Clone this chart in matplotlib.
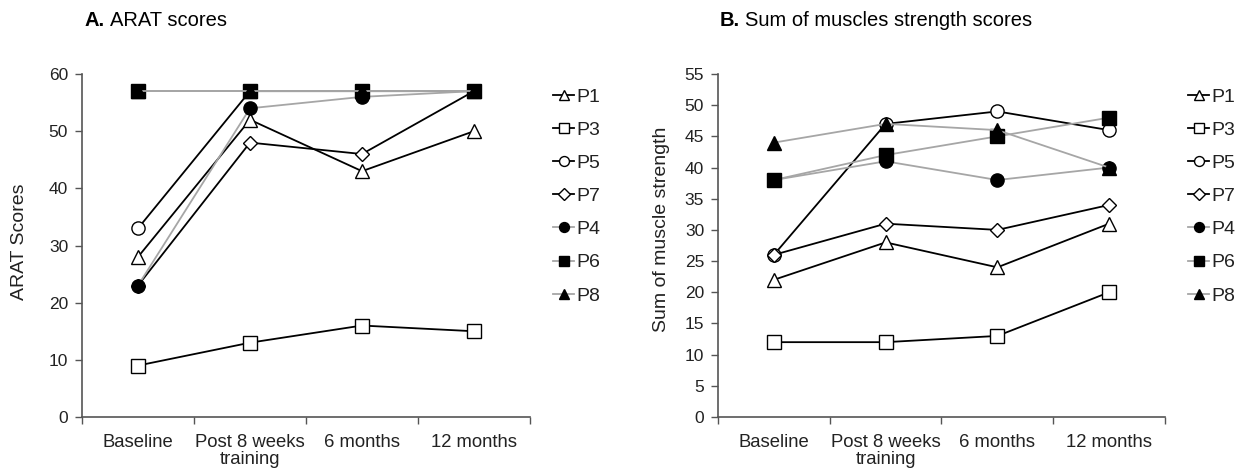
import matplotlib
matplotlib.use("Agg")
import matplotlib.pyplot as plt
import numpy as np

plt.rcParams['font.family'] = ['Liberation Sans', 'DejaVu Sans']

categories = ["Baseline", "Post 8 weeks\ntraining", "6 months", "12 months"]
series_names = ["P1", "P3", "P5", "P7", "P4", "P6", "P8"]

arat_P1 = [28, 52, 43, 50]
arat_P3 = [9, 13, 16, 15]
arat_P5 = [33, 57, 57, 57]
arat_P7 = [23, 48, 46, 57]
arat_P4 = [23, 54, 56, 57]
arat_P6 = [57, 57, 57, 57]
arat_P8 = [57, 57, 57, 57]

msc_P1 = [22, 28, 24, 31]
msc_P3 = [12, 12, 13, 20]
msc_P5 = [26, 47, 49, 46]
msc_P7 = [26, 31, 30, 34]
msc_P4 = [38, 41, 38, 40]
msc_P6 = [38, 42, 45, 48]
msc_P8 = [44, 47, 46, 40]

arat = [arat_P1, arat_P3, arat_P5, arat_P7, arat_P4, arat_P6, arat_P8]
msc = [msc_P1, msc_P3, msc_P5, msc_P7, msc_P4, msc_P6, msc_P8]

BLACK = "#000000"
GRAY = "#a6a6a6"
styles = {
    "P1": dict(marker="^", mfc="white", color=BLACK),
    "P3": dict(marker="s", mfc="white", color=BLACK),
    "P5": dict(marker="o", mfc="white", color=BLACK),
    "P7": dict(marker="D", mfc="white", color=BLACK),
    "P4": dict(marker="o", mfc="black", color=GRAY),
    "P6": dict(marker="s", mfc="black", color=GRAY),
    "P8": dict(marker="^", mfc="black", color=GRAY),
}
msizes = {"^": 10.5, "s": 9.5, "o": 9.5, "D": 7.5}

W, H = 1248, 474
fig = plt.figure(figsize=(W / 100, H / 100), dpi=100)

def px_axes(x0, x1, ytop, ybot):
    return fig.add_axes([x0 / W, 1 - ybot / H, (x1 - x0) / W, (ybot - ytop) / H])

axA = px_axes(82, 530, 74, 417)
axB = px_axes(718, 1165, 74, 417)

xpos = np.arange(len(categories)) + 0.5

def draw(ax, data, ymax, ystep, legx):
    handles = []
    for name, vals in zip(series_names, data):
        st = styles[name]
        h, = ax.plot(xpos, vals, color=st["color"], lw=1.3, marker=st["marker"],
                     mfc=st["mfc"], mec="black", mew=1.0,
                     ms=msizes[st["marker"]], label=name, clip_on=False, zorder=3)
        handles.append(h)
    ax.set_xlim(0, len(categories))
    ax.set_ylim(0, ymax)
    ax.set_yticks(np.arange(0, ymax + 0.1, ystep))
    ax.set_xticks(np.arange(0, len(categories) + 1))
    ax.set_xticklabels([])
    ax.set_xticks(xpos, minor=True)
    ax.set_xticklabels(categories, minor=True, fontsize=13.3, color="#222222",
                       linespacing=1.05)
    ax.tick_params(axis="x", which="minor", length=0, pad=12)
    ax.tick_params(axis="x", which="major", length=5, direction="out", color="#555555", width=1)
    ax.tick_params(axis="y", length=5, direction="out", color="#555555", width=1,
                   labelsize=12.5, labelcolor="#222222", pad=5)
    for s in ["top", "right"]:
        ax.spines[s].set_visible(False)
    for s in ["left", "bottom"]:
        ax.spines[s].set_color("#555555")
        ax.spines[s].set_linewidth(1.2)
    leg = ax.legend(handles=handles, loc="upper left",
                    bbox_to_anchor=(legx / W, 1 - 88 / H), bbox_transform=fig.transFigure,
                    frameon=False, fontsize=14, handlelength=1.1, handletextpad=0.1,
                    labelspacing=0.8, markerscale=0.75, borderaxespad=0, borderpad=0)
    for t in leg.get_texts():
        t.set_color("#222222")

draw(axA, arat, 60, 10, 553)
draw(axB, msc, 55, 5, 1188)

renderer = fig.canvas.get_renderer()

def title(xpx, bold, rest):
    t1 = fig.text(xpx / W, 1 - 20 / H, bold, fontsize=14.5, fontweight="bold", va="center", ha="left")
    bb = t1.get_window_extent(renderer)
    fig.text((bb.x1 + 5) / W, 1 - 20 / H, rest, fontsize=14.5, va="center", ha="left")

title(85, "A.", "ARAT scores")
title(720, "B.", "Sum of muscles strength scores")

# y labels
fig.text(20 / W, 1 - 242 / H, "ARAT Scores", rotation=90, fontsize=14, va="center", ha="center", color="#222222")
fig.text(662 / W, 1 - 229 / H, "Sum of muscle strength", rotation=90, fontsize=14, va="center", ha="center", color="#222222")

fig.savefig("out.png", dpi=100)
